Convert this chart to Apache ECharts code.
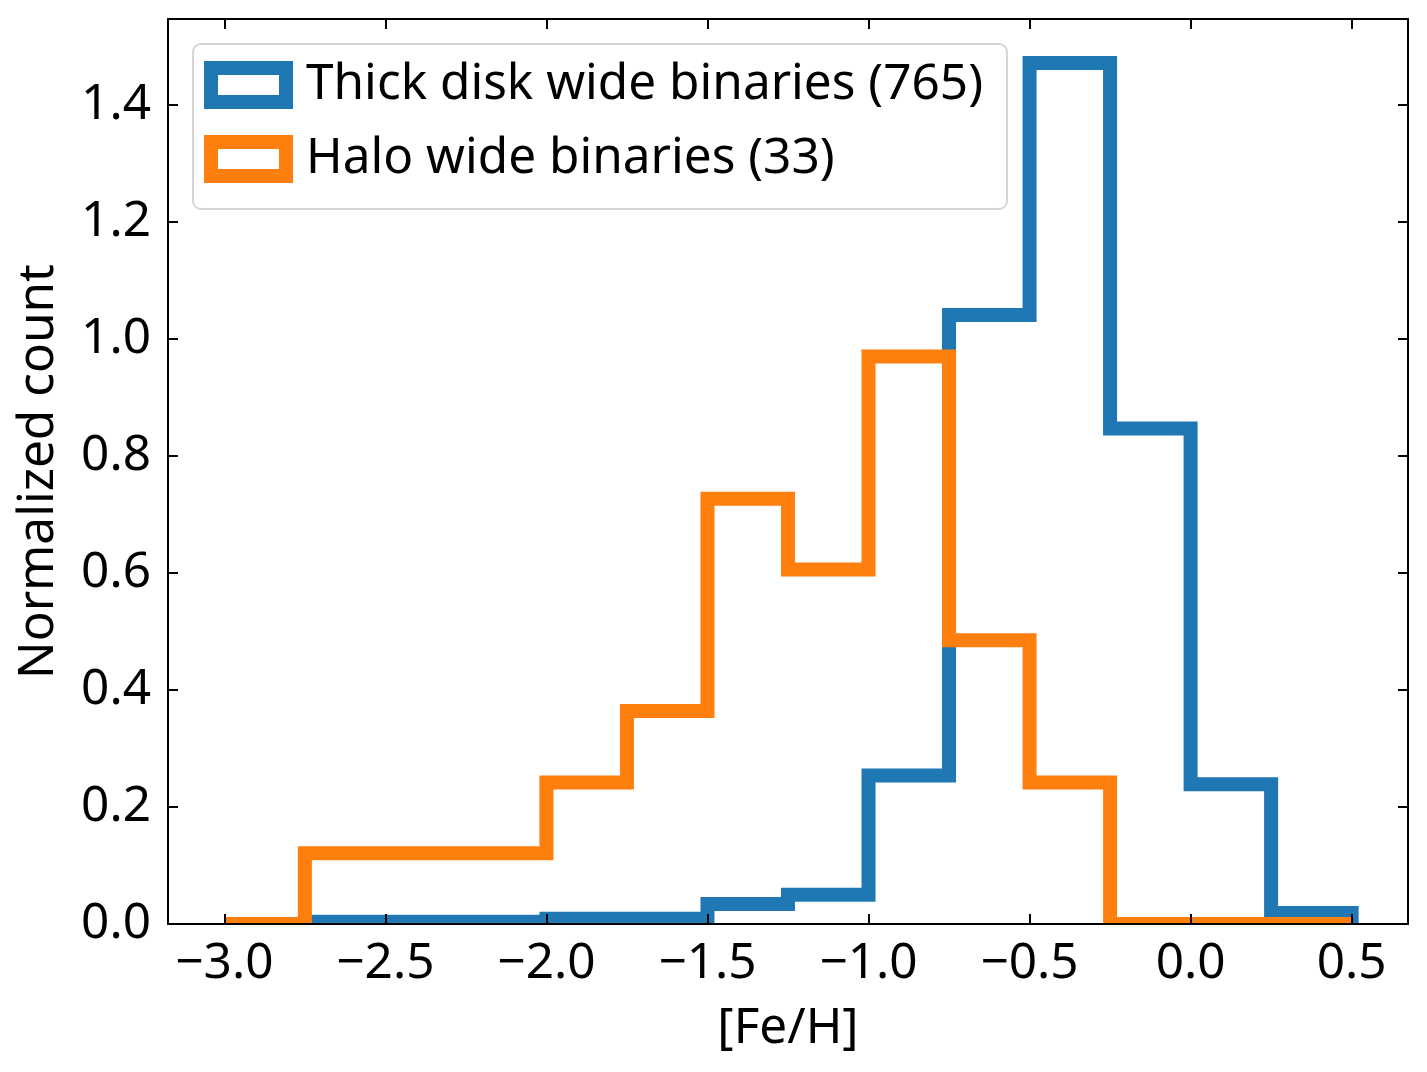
<!DOCTYPE html>
<html>
<head>
<meta charset="utf-8">
<title>[Fe/H] histogram</title>
<script src="https://cdn.jsdelivr.net/npm/echarts@6/dist/echarts.min.js"></script>
<style>
  html, body { margin: 0; padding: 0; background: #fff; }
  #main { width: 1427px; height: 1072px; }
</style>
</head>
<body>
<div id="main"></div>
<script>
// bin edges of the [Fe/H] histogram (width 0.25)
var binEdges = [-3.0, -2.75, -2.5, -2.25, -2.0, -1.75, -1.5, -1.25, -1.0, -0.75, -0.5, -0.25, 0.0, 0.25, 0.5];
// normalized counts per bin
var thickDisk = [0, 0.004, 0.004, 0.004, 0.009, 0.009, 0.034, 0.050, 0.254, 1.041, 1.472, 0.847, 0.239, 0.019];
var halo = [0, 0.121, 0.121, 0.121, 0.242, 0.364, 0.727, 0.606, 0.970, 0.485, 0.242, 0, 0, 0];
var seriesNames = ['Thick disk wide binaries (765)', 'Halo wide binaries (33)'];
var seriesColors = ['#1f77b4', '#ff7f0e'];
var xTicks = [-3.0, -2.5, -2.0, -1.5, -1.0, -0.5, 0.0, 0.5];
var yTicks = [0, 0.2, 0.4, 0.6, 0.8, 1.0, 1.2, 1.4];

var FONT = 'Noto Sans';
var FS = 49.5;

// turn bin counts into the outline matplotlib draws for histtype='step'
function stepPath(edges, vals) {
    var pts = [[edges[0], 0]];
    for (var i = 0; i < vals.length; i++) {
        pts.push([edges[i], vals[i]]);
        pts.push([edges[i + 1], vals[i]]);
    }
    pts.push([edges[edges.length - 1], 0]);
    return pts;
}

function fmt(v) {
    return v.toFixed(1).replace('-', '\u2212');
}

var myChart = echarts.init(document.getElementById('main'));

var xMin = -3.175, xMax = 0.675;
var yMin = 0, yMax = 1.547;

function xAxisCfg(pos, labels) {
    return {
        type: 'value', position: pos, min: xMin, max: xMax, z: 10,
        name: labels ? '[Fe/H]' : '',
        nameLocation: 'middle', nameGap: 80,
        nameTextStyle: { fontFamily: FONT, fontSize: FS, color: '#000' },
        axisLine: { show: true, onZero: false, lineStyle: { color: '#000', width: 2 } },
        axisTick: { show: true, inside: true, length: 10, customValues: xTicks, lineStyle: { color: '#000', width: 2 } },
        axisLabel: { show: labels, customValues: xTicks, margin: 15, formatter: fmt,
            fontFamily: FONT, fontSize: FS, color: '#000' },
        splitLine: { show: false }
    };
}

function yAxisCfg(pos, labels) {
    return {
        type: 'value', position: pos, min: yMin, max: yMax, z: 10,
        name: labels ? 'Normalized count' : '',
        nameLocation: 'middle', nameGap: 104,
        nameTextStyle: { fontFamily: FONT, fontSize: FS, color: '#000' },
        axisLine: { show: true, onZero: false, lineStyle: { color: '#000', width: 2 } },
        axisTick: { show: true, inside: true, length: 10, customValues: yTicks, lineStyle: { color: '#000', width: 2 } },
        axisLabel: { show: labels, customValues: yTicks, margin: 17, formatter: fmt,
            fontFamily: FONT, fontSize: FS, color: '#000' },
        splitLine: { show: false }
    };
}

var option = {
    animation: false,
    backgroundColor: '#fff',
    grid: { left: 168, right: 19, top: 19, bottom: 148 },
    xAxis: [xAxisCfg('bottom', true), xAxisCfg('top', false)],
    yAxis: [yAxisCfg('left', true), yAxisCfg('right', false)],
    // matplotlib clips the half of the step line that falls below y = 0
    graphic: [{
        type: 'rect', z: 5, silent: true,
        shape: { x: 160, y: 925, width: 1260, height: 8 },
        style: { fill: '#fff' }
    }],
    legend: {
        orient: 'vertical',
        left: 193, top: 44,
        selectedMode: false,
        backgroundColor: '#fff',
        borderColor: '#d6d6d6',
        borderWidth: 2,
        borderRadius: 8,
        padding: [16, 24, 25, 11],
        itemWidth: 75, itemHeight: 34, itemGap: 24,
        textStyle: { fontFamily: FONT, fontSize: FS, color: '#000', lineHeight: 45, padding: [5, 0, 0, 15] },
        data: seriesNames.map(function (n, i) {
            return { name: n, icon: 'rect',
                itemStyle: { color: '#fff', borderColor: seriesColors[i], borderWidth: 14 } };
        })
    },
    series: [
        {
            name: seriesNames[0], type: 'line', symbol: 'none', clip: true,
            data: stepPath(binEdges, thickDisk),
            itemStyle: { color: seriesColors[0] },
            lineStyle: { color: seriesColors[0], width: 14, join: 'miter', cap: 'butt' }
        },
        {
            name: seriesNames[1], type: 'line', symbol: 'none', clip: true,
            data: stepPath(binEdges, halo),
            itemStyle: { color: seriesColors[1] },
            lineStyle: { color: seriesColors[1], width: 14, join: 'miter', cap: 'butt' }
        }
    ]
};

myChart.setOption(option);
</script>
</body>
</html>
